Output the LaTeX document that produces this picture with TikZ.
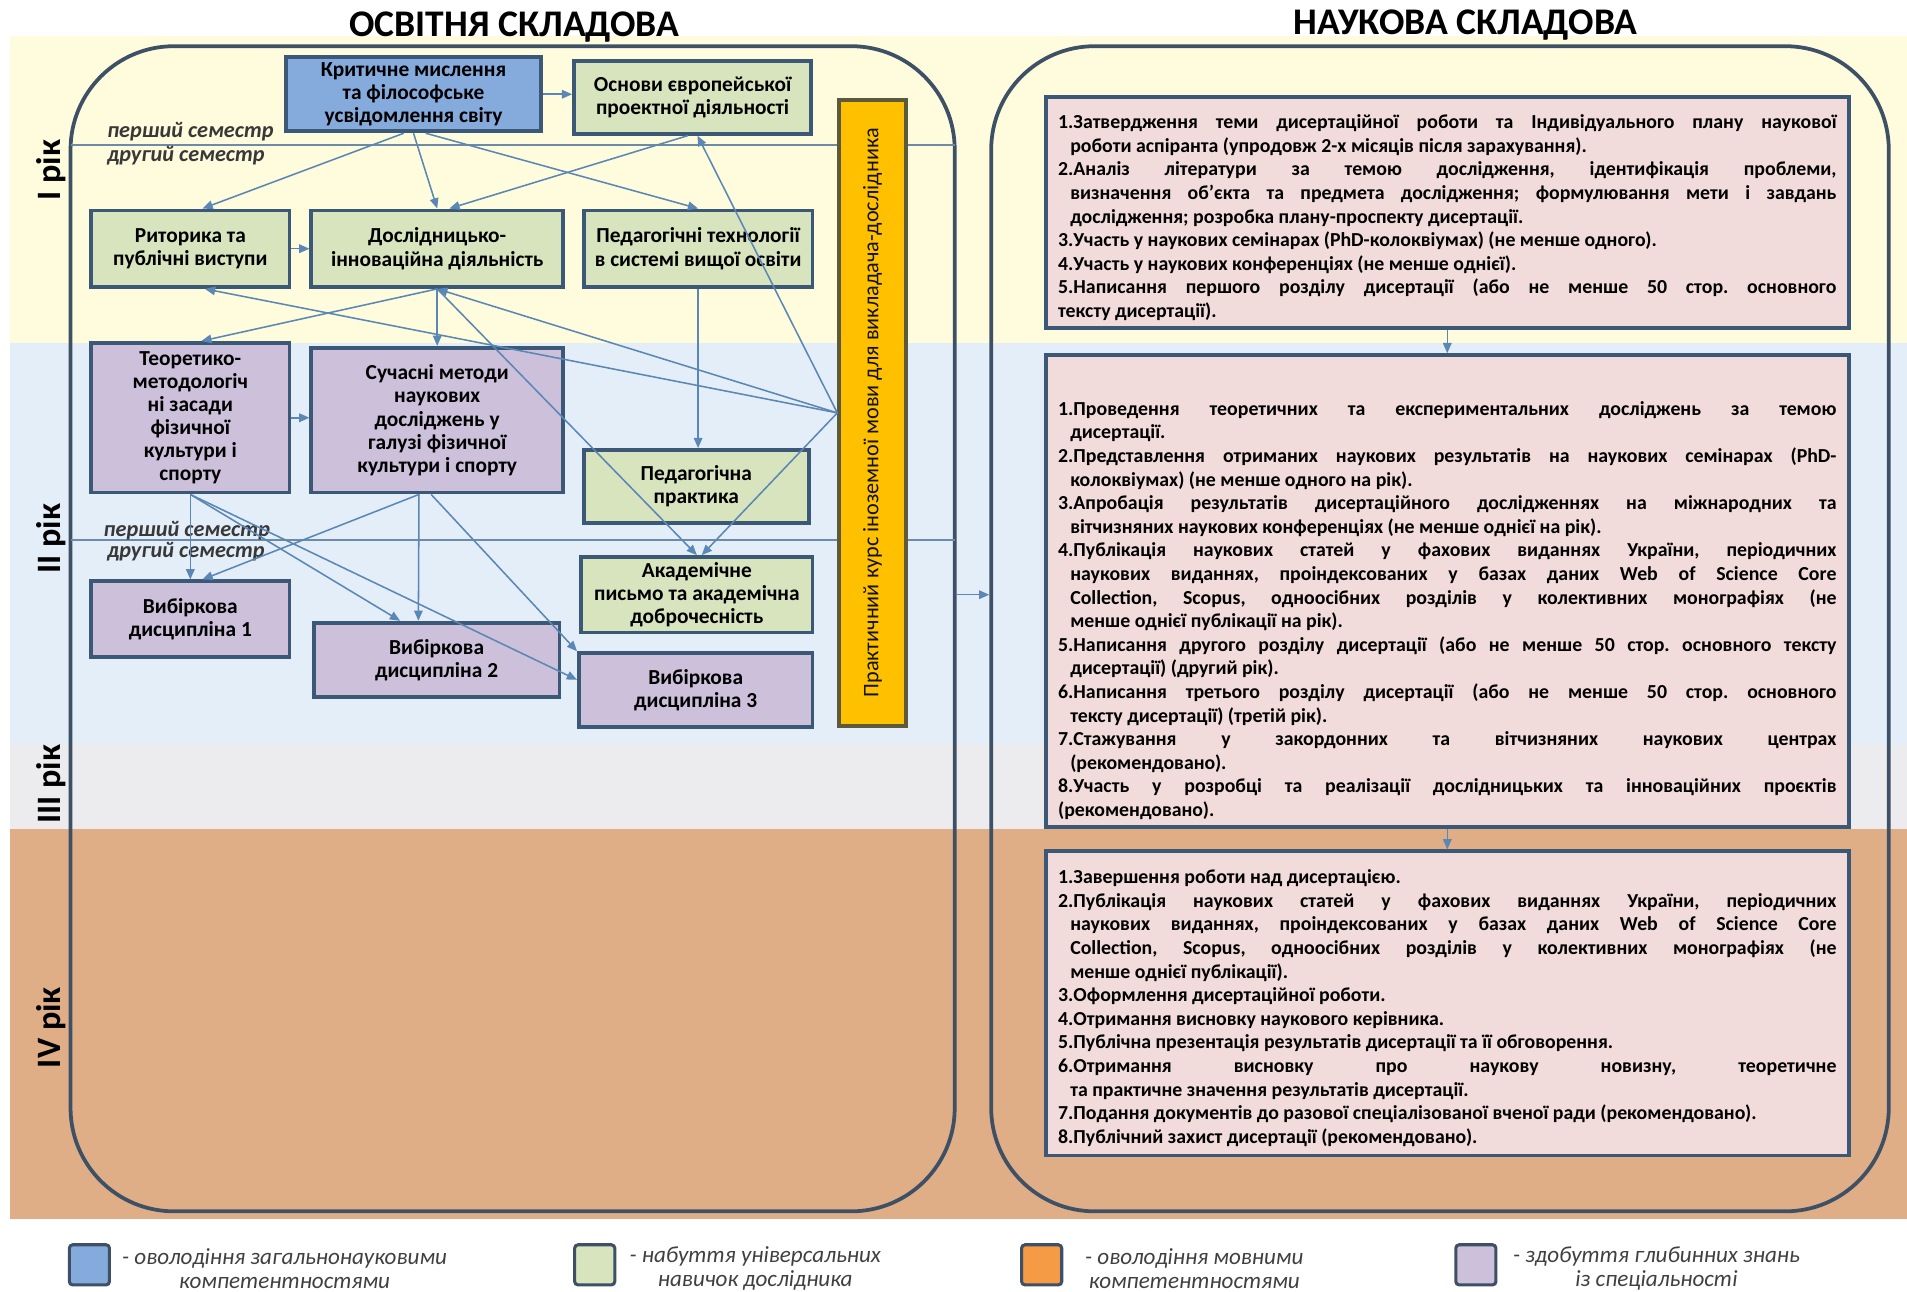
\documentclass[tikz,border=0pt]{standalone}
\usepackage{fontspec}
\setmainfont[WordSpace={1,1,2}]{Carlito}
\usetikzlibrary{arrows.meta, positioning}

\newlength\pxl \setlength\pxl{0.025cm}
\definecolor{bandY}{HTML}{FEFCDC}
\definecolor{bandB}{HTML}{E3EEF8}
\definecolor{bandG}{HTML}{ECECEE}
\definecolor{bandO}{HTML}{DFAE86}
\definecolor{frameC}{HTML}{3E5066}
\definecolor{boxline}{HTML}{3B5877}
\definecolor{arrowC}{HTML}{5B87B5}
\definecolor{semC}{HTML}{6D8AA8}
\definecolor{blueF}{HTML}{85ABDD}
\definecolor{greenF}{HTML}{D8E4BE}
\definecolor{lilacF}{HTML}{CCC0DA}
\definecolor{pinkF}{HTML}{F2DCDB}
\definecolor{barF}{HTML}{FFC000}
\definecolor{barline}{HTML}{5C5A3C}
\definecolor{orangeF}{HTML}{F59A45}
\definecolor{legC}{HTML}{404040}

\newcommand\itm{\par\noindent\hangindent=10\pxl\hangafter=1 }
\frenchspacing

\tikzset{
  wh/.style 2 args={minimum width=#1\pxl, minimum height=#2\pxl},
  box/.style={draw=boxline, line width=2.2pt, align=center, inner sep=2pt,
    font=\bfseries\fontsize{12.5}{13.5}\selectfont},
  bluebox/.style={box, fill=blueF},
  greenbox/.style={box, fill=greenF},
  lilacbox/.style={box, fill=lilacF},
  pinkbox/.style={box, fill=pinkF, align=justify, text width=640\pxl, inner xsep=10\pxl,
    font=\bfseries\fontsize{11.6}{13.8}\selectfont},
  barbox/.style={draw=barline, line width=2.2pt, fill=barF},
  frame/.style={draw=frameC, line width=2.2pt, rounded corners=85\pxl},
  arr/.style={draw=arrowC, line width=0.9pt, -{Triangle[length=6pt,width=5pt]}},
  sem/.style={anchor=west, inner sep=0pt, text=black!78,
    font=\bfseries\itshape\fontsize{13}{15}\selectfont},
  year/.style={rotate=90, font=\bfseries\fontsize{20}{24}\selectfont},
  title/.style={font=\bfseries\fontsize{22}{26}\selectfont},
}

\begin{document}
\begin{tikzpicture}[x=0.025cm, y=-0.025cm]
    \useasboundingbox (0,0) rectangle (1568,1062);
    % смуги років
    \foreach \c/\ya/\yb in {bandY/30/282, bandB/282/612, bandG/612/682, bandO/682/1002}
        \fill[\c] (8,\ya) rectangle (1568,\yb);
    \foreach \t/\y in {I рік/140, II рік/443, III рік/645, IV рік/845}
        \node[year] (year\y) at (42,\y) {\t};

    % заголовки та рамки
    \node[title] (tedu) at (423,22) {ОСВІТНЯ СКЛАДОВА};
    \node[title] (tsci) at (1205,21) {НАУКОВА СКЛАДОВА};
    \node[frame, wh={727}{958}] (edu) at (421.5,517) {};
    \node[frame, wh={738}{958}] (sci) at (1184,517) {};

    % семестри
    \draw[semC, line width=1pt] (58,119) -- (785,119);
    \draw[semC, line width=1pt] (58,444) -- (785,444);
    \node[sem] (s1a) at (88,108) {перший семестр};
    \node[sem] (s1b) at (88,128) {другий семестр};
    \node[sem] (s2a) at (85,436) {перший семестр};
    \node[sem] (s2b) at (88,454) {другий семестр};

    % освітня складова
    \node[bluebox, wh={210}{61}] (crit) at (340,77.5) {Критичне мислення\\та філософське\\усвідомлення світу};
    \node[greenbox, wh={195}{60}] (osnovy) at (569.5,80) {Основи європейської\\проектної діяльності};
    \node[greenbox, wh={163}{63}] (rytor) at (156.5,204.5) {Риторика та\\публічні виступи};
    \node[greenbox, wh={207}{63}] (doslid) at (359.5,204.5) {Дослідницько-\\інноваційна діяльність};
    \node[greenbox, wh={188}{63}] (pedtech) at (574,204.5) {Педагогічні технології\\в системі вищої освіти};
    \node[lilacbox, wh={163}{123}] (teor) at (156.5,343.5) {Теоретико-\\методологіч\\ні засади\\фізичної\\культури і\\спорту};
    \node[lilacbox, wh={207}{119}] (suchas) at (359.5,345.5) {Сучасні методи\\наукових\\досліджень у\\галузі фізичної\\культури і спорту};
    \node[greenbox, wh={185}{60}] (prakt) at (572.5,400) {Педагогічна\\практика};
    \node[greenbox, wh={190}{62}] (akadem) at (573,489) {Академічне\\письмо та академічна\\доброчесність};
    \node[lilacbox, wh={163}{62}] (vyb1) at (156.5,509) {Вибіркова\\дисципліна 1};
    \node[lilacbox, wh={202}{61}] (vyb2) at (359,542.5) {Вибіркова\\дисципліна 2};
    \node[lilacbox, wh={192}{61}] (vyb3) at (572,567.5) {Вибіркова\\дисципліна 3};
    \node[barbox, wh={55}{515}] (bar) at (717.5,339.5) {};
    \node[rotate=90, text=black!80!barline, font=\fontsize{13}{15}\selectfont] (bartxt) at (bar) {Практичний курс іноземної мови для викладача-дослідника};

    % зв'язки
    \draw[arr] (crit.east) -- (crit.east -| osnovy.west);
    \draw[arr] ([xshift=-8\pxl]crit.south) -- ([xshift=10\pxl]rytor.north);
    \draw[arr] (crit.south) -- (doslid.north);
    \draw[arr] ([xshift=10\pxl]crit.south) -- (pedtech.north);
    \draw[arr] ([xshift=-4\pxl]osnovy.south) -- ([xshift=10\pxl]doslid.north);
    \draw[arr] (rytor.east) -- (rytor.east -| doslid.west);
    \draw[arr] (bar.west) -- ([xshift=4\pxl]osnovy.south);
    \draw[arr] (bar.west) -- ([xshift=12\pxl]rytor.south);
    \draw[arr] (bar.west) -- (doslid.south);
    \draw[arr] (bar.west) -- ([xshift=4\pxl]akadem.north);
    \draw[arr] (doslid.south) -- (doslid.south |- suchas.north);
    \draw[arr] (doslid.south) -- ([xshift=9\pxl]teor.north);
    \draw[arr] (doslid.south) -- (akadem.north);
    \draw[arr] (pedtech.south) -- (pedtech.south |- prakt.north);
    \draw[arr] (teor.east) -- (teor.east -| suchas.west);
    \draw[arr] (teor.south) -- (teor.south |- vyb1.north);
    \draw[arr] ([xshift=-15\pxl]suchas.south) -- ([xshift=10\pxl]vyb1.north);
    \draw[arr] ([xshift=-15\pxl]suchas.south) -- ([xshift=-15\pxl]vyb2.north);
    \draw[arr] ([xshift=-5\pxl]suchas.south) -- (vyb3.north west);
    \draw[arr] (teor.south) -- ([xshift=-30\pxl]vyb2.north);
    \draw[arr] (teor.south) -- (vyb3.175);

    % наукова складова
    \node[pinkbox, wh={660}{190}] (nauk1) at (1190,175) {%
    \itm 1.Затвердження теми дисертаційної роботи та Індивідуального плану наукової\linebreak роботи аспіранта (упродовж 2-х місяців після зарахування).
    \itm 2.Аналіз літератури за темою дослідження, ідентифікація проблеми,\linebreak визначення об’єкта та предмета дослідження; формулювання мети і завдань\linebreak дослідження; розробка плану-проспекту дисертації.
    \itm 3.Участь у наукових семінарах (PhD-колоквіумах) (не менше одного).
    \itm 4.Участь у наукових конференціях (не менше однієї).
    \itm 5.Написання першого розділу дисертації (або не менше 50 стор. основного\linebreak тексту дисертації).};
    \node[pinkbox, wh={660}{388}] (nauk2) at (1190,486) {\vspace*{24\pxl}%
    \itm 1.Проведення теоретичних та експериментальних досліджень за темою\linebreak дисертації.
    \itm 2.Представлення отриманих наукових результатів на наукових семінарах (PhD-\linebreak колоквіумах) (не менше одного на рік).
    \itm 3.Апробація результатів дисертаційного дослідженнях на міжнародних та\linebreak вітчизняних наукових конференціях (не менше однієї на рік).
    \itm 4.Публікація наукових статей у фахових виданнях України, періодичних\linebreak наукових виданнях, проіндексованих у базах даних Web of Science Core\linebreak Collection, Scopus, одноосібних розділів у колективних монографіях (не\linebreak менше однієї публікації на рік).
    \itm 5.Написання другого розділу дисертації (або не менше 50 стор. основного тексту\linebreak дисертації) (другий рік).
    \itm 6.Написання третього розділу дисертації (або не менше 50 стор. основного\linebreak тексту дисертації) (третій рік).
    \itm 7.Стажування у закордонних та вітчизняних наукових центрах\linebreak (рекомендовано).
    \itm 8.Участь у розробці та реалізації дослідницьких та інноваційних проєктів\linebreak (рекомендовано).};
    \node[pinkbox, wh={660}{250}] (nauk3) at (1190,825) {%
    \itm 1.Завершення роботи над дисертацією.
    \itm 2.Публікація наукових статей у фахових виданнях України, періодичних\linebreak наукових виданнях, проіндексованих у базах даних Web of Science Core\linebreak Collection, Scopus, одноосібних розділів у колективних монографіях (не\linebreak менше однієї публікації).
    \itm 3.Оформлення дисертаційної роботи.
    \itm 4.Отримання висновку наукового керівника.
    \itm 5.Публічна презентація результатів дисертації та її обговорення.
    \itm 6.Отримання висновку про наукову новизну, теоретичне\linebreak та практичне значення результатів дисертації.
    \itm 7.Подання документів до разової спеціалізованої вченої ради (рекомендовано).
    \itm 8.Публічний захист дисертації (рекомендовано).};
    \draw[arr] (nauk1.south) -- (nauk2.north);
    \draw[arr] (nauk2.south) -- (nauk3.north);
    \draw[arr] (edu.east |- akadem) -- (sci.west |- akadem);

    % легенда
    \foreach \c/\sx/\tx/\t [count=\i] in {blueF/73.5/234/- оволодіння загальнонауковими\\компетентностями,
        greenF/489/621/- набуття універсальних\\навичок дослідника,
        orangeF/856.5/982/- оволодіння мовними\\компетентностями,
        lilacF/1213.5/1362/- здобуття глибинних знань\\із спеціальності} {
        \node[draw=frameC, line width=1.8pt, fill=\c, rounded corners=2pt, wh={33}{33}] (key\i) at (\sx,1040) {};
        \node[align=center, text=legC, font=\itshape\fontsize{13.5}{14}\selectfont] (leg\i) at (\tx,1043) {\t};
    }
\end{tikzpicture}
\end{document}
